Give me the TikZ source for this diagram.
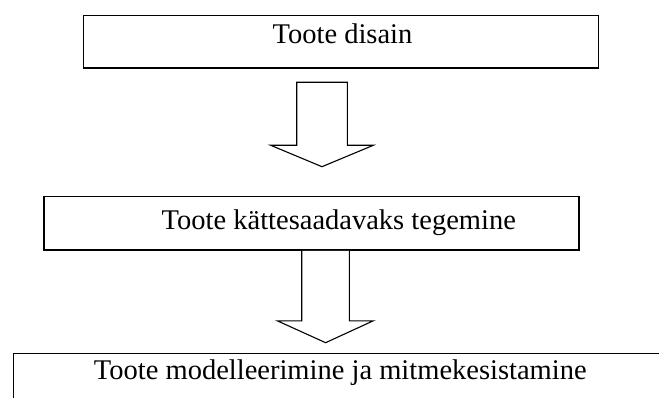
\documentclass[tikz,border=0pt]{standalone}
\usepackage{fontspec}
\setmainfont{Liberation Serif}
\usetikzlibrary{calc}
\begin{document}
\begin{tikzpicture}[x=1pt,y=-1pt,
  boxnode/.style={draw=black, line width=1.6pt, rectangle, inner sep=0pt, fill=none},
  label/.style={anchor=base, inner sep=0pt, font=\fontsize{28.5}{34}\selectfont},
  bigarrow/.style={draw=black, line width=1.1pt, line join=miter, fill=white}]
\useasboundingbox (0,0) rectangle (659,398);
\clip (0,0) rectangle (659,398);
% boxes
\node[boxnode, minimum width=515pt, minimum height=52.6pt] (b1) at (340.8,42) {};
\node[boxnode, minimum width=535pt, minimum height=53.3pt] (b2) at (311.5,223.35) {};
\node[boxnode, minimum width=700pt, minimum height=80pt] (b3) at (363.3,393.3) {};
% texts
\node[label] (t1) at (342.5,43.3) {Toote disain};
\node[label] (t2) at (338.8,229.3) {Toote kättesaadavaks tegemine};
\node[label] (t3) at (340.3,379.6) {Toote modelleerimine ja mitmekesistamine};
% arrow 1
\coordinate (a1) at (322,82.3);
\coordinate (a1tip) at (322,166.7);
\draw[bigarrow] ($(a1)+(-25.3,0)$) -- ($(a1)+(25.3,0)$) -- ($(a1)+(25.3,63)$) -- ($(a1)+(51.3,63)$)
  -- (a1tip) -- ($(a1)+(-51.3,63)$) -- ($(a1)+(-25.3,63)$) -- cycle;
% arrow 2 (from bottom of box 2)
\coordinate (a2) at (b2.south -| 325.5,0);
\coordinate (a2tip) at (325.6,342.7);
\draw[bigarrow] ($(a2)+(-23.8,0)$) -- ($(a2)+(-23.8,70)$) -- ($(a2)+(-48.2,70)$) -- (a2tip)
  -- ($(a2)+(47.8,70)$) -- ($(a2)+(23.8,70)$) -- ($(a2)+(23.8,0)$);
\end{tikzpicture}
\end{document}
